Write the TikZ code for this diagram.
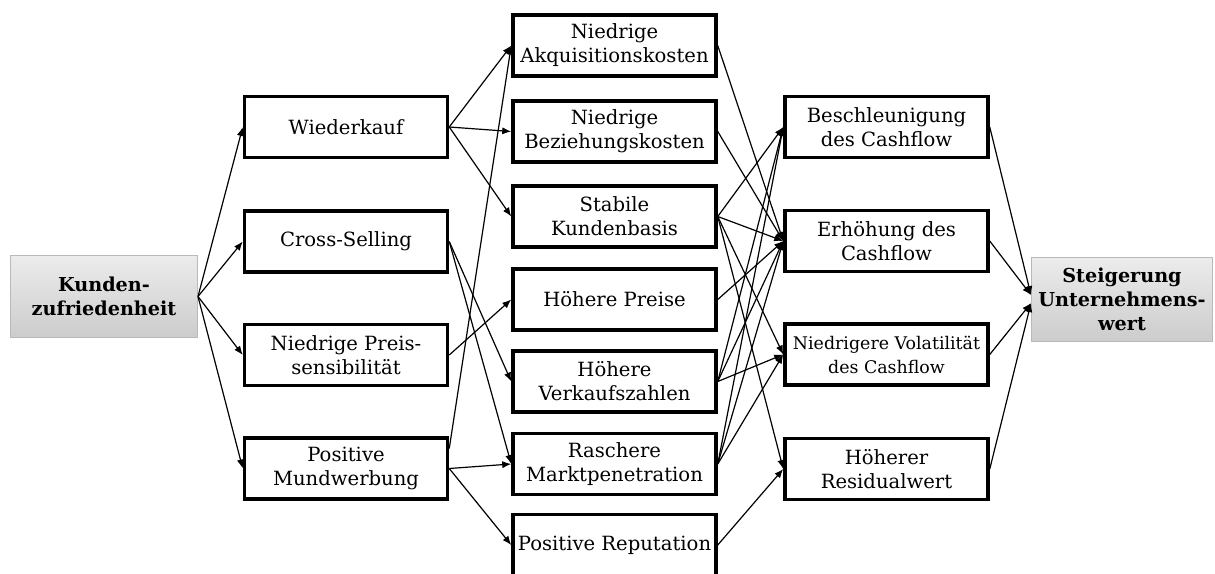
\documentclass[tikz,border=0pt]{standalone}
\usepackage{fontspec}
\setmainfont{DejaVu Serif}
\usetikzlibrary{arrows.meta}
\begin{document}
\begin{tikzpicture}[x=0.5pt,y=-0.5pt,
  box/.style={draw=black, line width=1.75pt, fill=white,
    minimum width=101.5pt, minimum height=30.5pt, inner sep=0pt,
    align=center, font=\fontsize{9.8}{12}\selectfont},
  key/.style={draw=gray!55, line width=0.5pt, top color=gray!15,
    bottom color=gray!40, inner sep=0pt, align=center,
    font=\fontsize{9.6}{12}\selectfont\bfseries},
  link/.style={line width=0.6pt, -{Latex[length=4.5pt,width=3.6pt]}}]
\useasboundingbox (0,0) rectangle (1215,573);
\clip (0,0) rectangle (1215,573);

% outer boxes
\node[key, minimum width=93.5pt, minimum height=41pt] (kz) at (104,296.5) {Kunden-\\zufriedenheit};
\node[key, minimum width=90.5pt, minimum height=42pt] (uw) at (1122,299.5) {Steigerung\\Unternehmens-\\wert};

% first column
\node[box] (wk) at (346,127)   {Wiederkauf};
\node[box] (cs) at (346,241.5) {Cross-Selling};
\node[box] (ps) at (346,355)   {Niedrige Preis-\\sensibilität};
\node[box] (mw) at (346,468.5) {Positive\\Mundwerbung};

% second column
\node[box] (ak) at (614.5,45.5)  {Niedrige\\Akquisitionskosten};
\node[box] (bk) at (614.5,131.5) {Niedrige\\Beziehungskosten};
\node[box] (sk) at (614.5,216.5) {Stabile\\Kundenbasis};
\node[box] (hp) at (614.5,299.5) {Höhere Preise};
\node[box] (hv) at (614.5,381.5) {Höhere\\Verkaufszahlen};
\node[box] (rm) at (614.5,464)   {Raschere\\Marktpenetration};
\node[box] (pr) at (614.5,545)   {Positive Reputation};

% third column
\node[box] (bc) at (886.5,127)   {Beschleunigung\\des Cashflow};
\node[box] (ec) at (886.5,241)   {Erhöhung des\\Cashflow};
\node[box, font=\fontsize{8.7}{12}\selectfont] (vc) at (886.5,354.5) {Niedrigere Volatilität\\des Cashflow};
\node[box] (rw) at (886.5,469)   {Höherer\\Residualwert};

% satisfaction to first column
\foreach \t in {wk,cs,ps,mw} \draw[link] (kz.east) -- (\t.west);

% first to second column
\draw[link] (wk.east) -- (ak.west);
\draw[link] (wk.east) -- (bk.west);
\draw[link] (wk.east) -- (sk.west);
\draw[link] (cs.east) -- (hv.west);
\draw[link] (cs.east) -- (rm.west);
\draw[link] (ps.east) -- (hp.west);
\draw[link] ([yshift=10pt]mw.east) -- (ak.west);
\draw[link] (mw.east) -- (rm.west);
\draw[link] (mw.east) -- (pr.west);

% second to third column
\draw[link] (ak.east) -- (ec.west);
\draw[link] (bk.east) -- (ec.west);
\draw[link] (sk.east) -- (bc.west);
\draw[link] (sk.east) -- (ec.west);
\draw[link] (sk.east) -- (vc.west);
\draw[link] (sk.east) -- (rw.west);
\draw[link] (hp.east) -- (ec.west);
\draw[link] (hv.east) -- (bc.west);
\draw[link] (hv.east) -- (ec.west);
\draw[link] (hv.east) -- (vc.west);
\draw[link] (rm.east) -- (bc.west);
\draw[link] (rm.east) -- (ec.west);
\draw[link] (rm.east) -- (vc.west);
\draw[link] (pr.east) -- (rw.west);

% third column to company value
\draw[link] (bc.east) -- ([yshift=2.2pt]uw.west);
\draw[link] (ec.east) -- ([yshift=2.2pt]uw.west);
\draw[link] (vc.east) -- ([yshift=-1.8pt]uw.west);
\draw[link] (rw.east) -- ([yshift=-1.8pt]uw.west);
\end{tikzpicture}
\end{document}
